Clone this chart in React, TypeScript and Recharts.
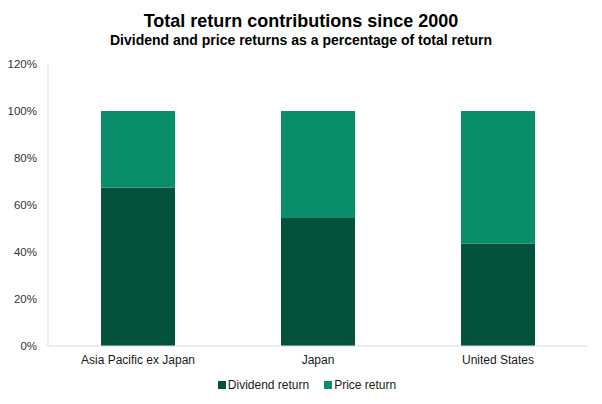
import { BarChart, Bar, XAxis, YAxis, Legend } from "recharts";

const regions = ["Asia Pacific ex Japan", "Japan", "United States"];
const dividendReturn = [67.4, 54.5, 43.5];
const priceReturn = [32.6, 45.5, 56.5];
const yTicks = [0, 20, 40, 60, 80, 100, 120];

const series = [
  { key: "dividend", name: "Dividend return", color: "#03523b" },
  { key: "price", name: "Price return", color: "#0a8d6b" },
];

const data = regions.map((region, i) => ({
  region,
  dividend: dividendReturn[i],
  price: priceReturn[i],
}));

const font = '"Liberation Sans", Arial, sans-serif';

function LegendRow() {
  return (
    <div
      style={{
        height: 28,
        display: "flex",
        justifyContent: "center",
        alignItems: "flex-start",
        gap: 15,
        fontFamily: font,
        fontSize: 12,
        color: "#1a1a1a",
        lineHeight: "18px",
      }}
    >
      {series.map((s) => (
        <span key={s.key} style={{ display: "inline-flex", alignItems: "center" }}>
          <span
            style={{
              width: 8,
              height: 8,
              background: s.color,
              display: "inline-block",
              marginRight: 2,
            }}
          />
          {s.name}
        </span>
      ))}
    </div>
  );
}

export default function App() {
  return (
    <div
      style={{
        position: "absolute",
        left: 0,
        top: 0,
        width: 602,
        height: 404,
        background: "#fff",
        fontFamily: font,
      }}
    >
      <div
        style={{
          position: "absolute",
          top: 12,
          left: 0,
          width: 602,
          textAlign: "center",
          fontSize: 18,
          lineHeight: "18px",
          fontWeight: 700,
          color: "#000",
        }}
      >
        Total return contributions since 2000
      </div>
      <div
        style={{
          position: "absolute",
          top: 33,
          left: 0,
          width: 602,
          textAlign: "center",
          fontSize: 14,
          lineHeight: "14px",
          fontWeight: 700,
          color: "#000",
        }}
      >
        Dividend and price returns as a percentage of total return
      </div>
      <div style={{ position: "absolute", left: 0, top: 0 }}>
        <BarChart
          width={602}
          height={404}
          data={data}
          margin={{ top: 64, right: 14, left: 0, bottom: 0 }}
        >
          <XAxis
            dataKey="region"
            height={30}
            tickLine={false}
            tickSize={0}
            tickMargin={9}
            axisLine={{ stroke: "#d9d9d9" }}
            tick={{ fill: "#1a1a1a", fontSize: 12, fontFamily: font }}
          />
          <YAxis
            width={48}
            domain={[0, 120]}
            ticks={yTicks}
            tickFormatter={(v) => `${v}%`}
            tickLine={false}
            tickSize={0}
            tickMargin={11}
            axisLine={{ stroke: "#d9d9d9" }}
            tick={{ fill: "#333", fontSize: 11.5, fontFamily: font }}
          />
          <Legend
            verticalAlign="bottom"
            wrapperStyle={{ left: 6, width: 602 }}
            content={() => <LegendRow />}
          />
          {series.map((s) => (
            <Bar
              key={s.key}
              dataKey={s.key}
              name={s.name}
              stackId="a"
              fill={s.color}
              barSize={74}
              isAnimationActive={false}
            />
          ))}
        </BarChart>
      </div>
    </div>
  );
}
